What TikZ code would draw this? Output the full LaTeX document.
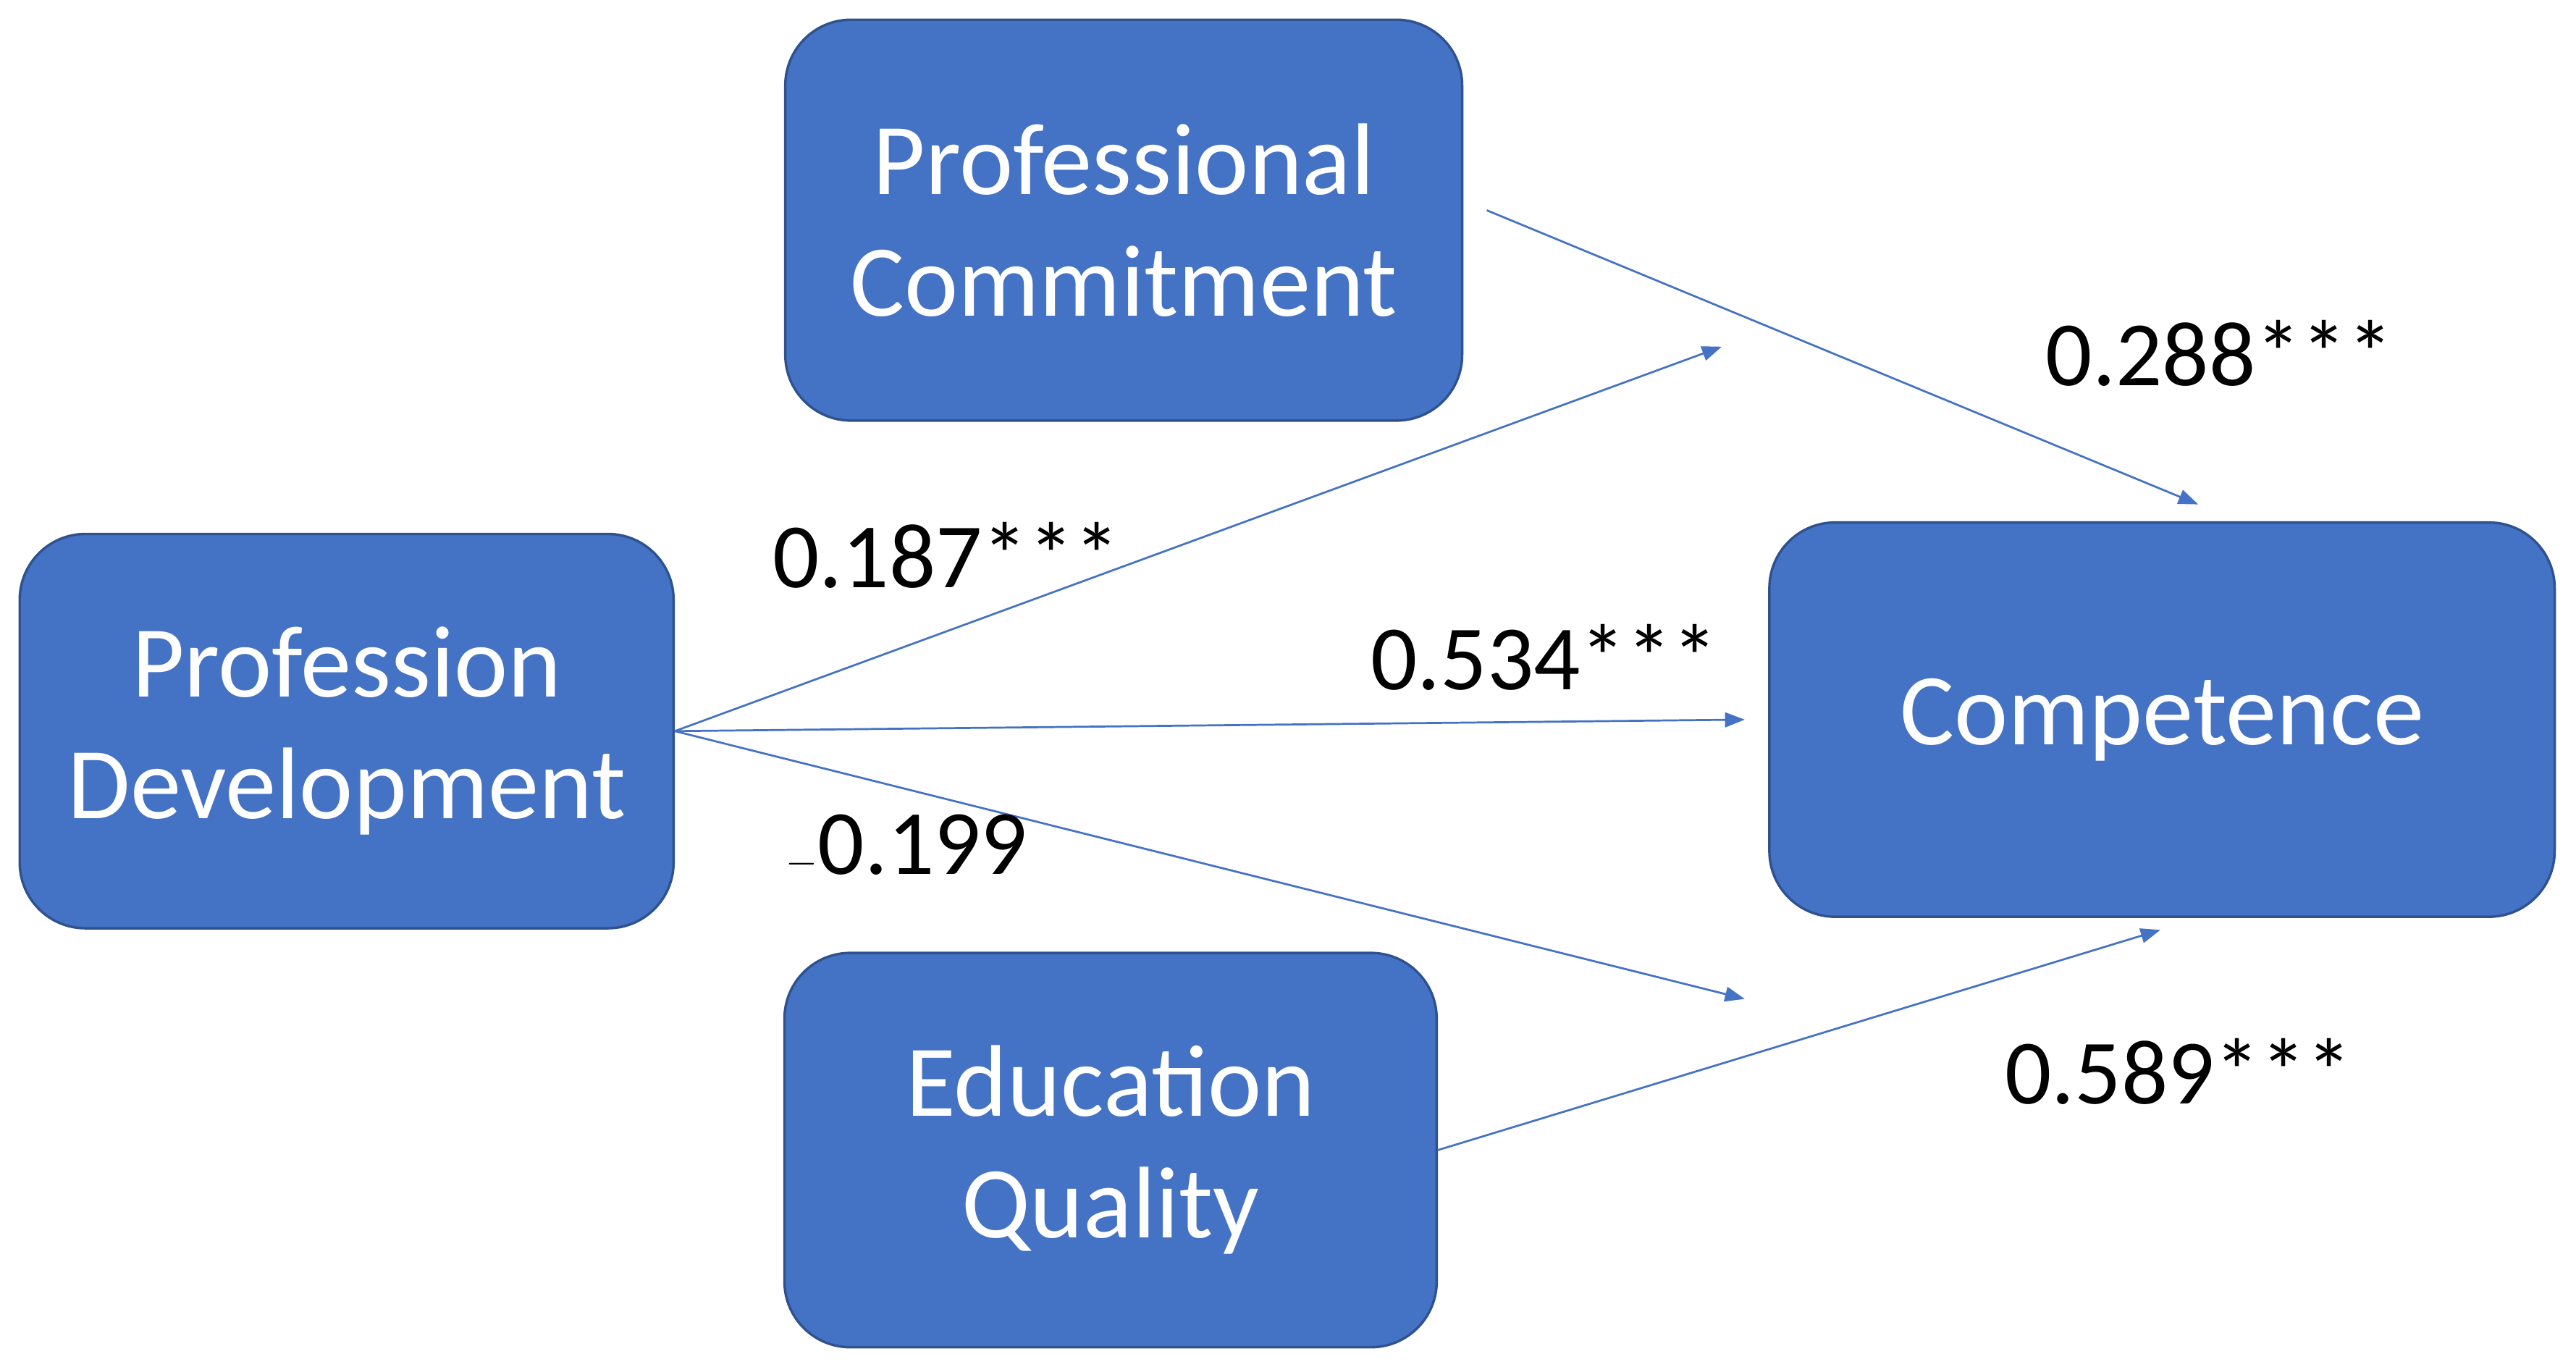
\documentclass[tikz,border=0pt]{standalone}
\usepackage{fontspec}
\setmainfont{Carlito}
\usetikzlibrary{arrows.meta}
\definecolor{boxblue}{HTML}{4472C4}
\definecolor{boxedge}{HTML}{2F528F}
\begin{document}
\begin{tikzpicture}[x=1pt,y=-1pt,
  box/.style={draw=boxedge,line width=1.5pt,fill=boxblue,rounded corners=40pt,text=white,align=center,font=\fontsize{62}{74}\selectfont},
  conn/.style={draw=boxblue,line width=1.2pt,-{Triangle[length=12pt,width=9pt]}},
  lab/.style={font=\fontsize{56}{66}\selectfont,text=black}]
\useasboundingbox (0,0) rectangle (1568,832);
\node[box,minimum width=412pt,minimum height=244pt] (pc) at (684,134) {Professional\\Commitment};
\node[box,minimum width=398pt,minimum height=240pt] (pd) at (211,445) {Profession\\Development};
\node[box,minimum width=478pt,minimum height=240pt] (co) at (1316,438) {Competence};
\node[box,minimum width=397pt,minimum height=240pt] (eq) at (676,700) {Education\\Quality};
\coordinate (a1) at (1048,211);
\coordinate (a2) at (1062,438);
\coordinate (a3) at (1062,608);
\coordinate (pcs) at (905,128);
\coordinate (cot) at (1338,307);
\coordinate (cob) at (1315,566);
\draw[conn] (pd.east) -- (a1);
\draw[conn] (pd.east) -- (a2);
\draw[conn] (pd.east) -- (a3);
\draw[conn] (pcs) -- (cot);
\draw[conn] (eq.east) -- (cob);
\node[lab] (l1) at (576,338) {0.187***};
\node[lab] (l2) at (940,400) {0.534***};
\node[lab] (l3) at (552,515) {$-$0.199};
\node[lab] (l4) at (1351,215) {0.288***};
\node[lab] (l5) at (1326,652) {0.589***};
\end{tikzpicture}
\end{document}
